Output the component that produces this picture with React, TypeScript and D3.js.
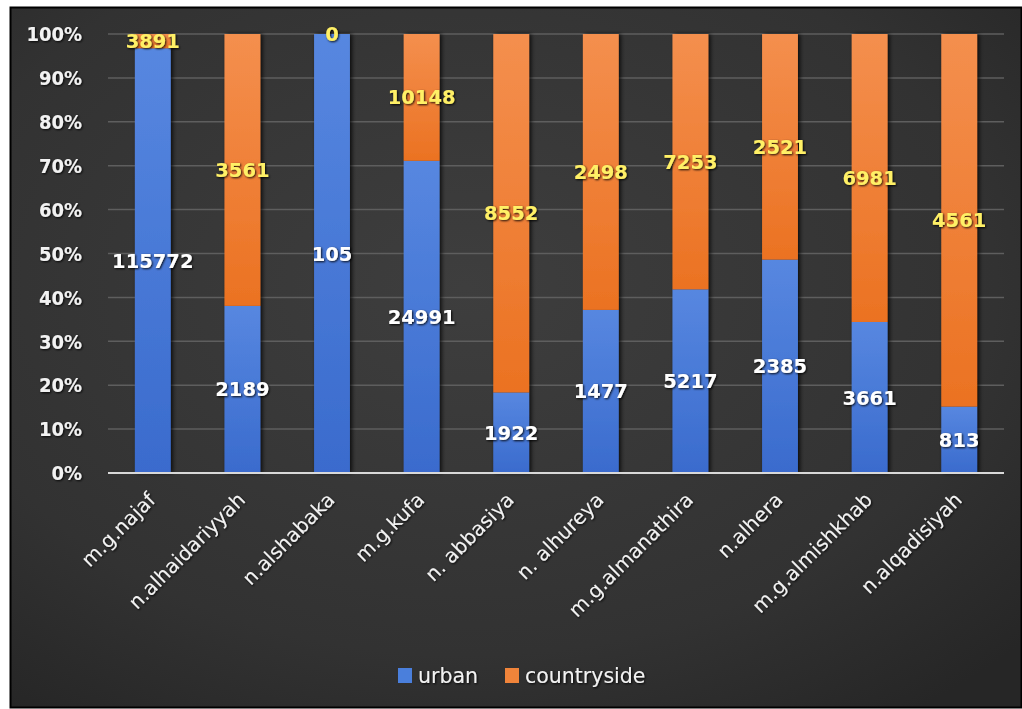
import React from "react";
import * as d3 from "d3";

// chart values
const categories = [
  "m.g.najaf",
  "n.alhaidariyyah",
  "n.alshabaka",
  "m.g.kufa",
  "n. abbasiya",
  "n. alhureya",
  "m.g.almanathira",
  "n.alhera",
  "m.g.almishkhab",
  "n.alqadisiyah",
];
const urban = [115772, 2189, 105, 24991, 1922, 1477, 5217, 2385, 3661, 813];
const countryside = [3891, 3561, 0, 10148, 8552, 2498, 7253, 2521, 6981, 4561];
const yTicks = [0, 0.1, 0.2, 0.3, 0.4, 0.5, 0.6, 0.7, 0.8, 0.9, 1];
const seriesNames = ["urban", "countryside"];

const W = 1022;
const H = 709;
const left = 108;
const right = 1004;
const top = 34;
const bottom = 473;
const font = "'DejaVu Sans', Verdana, sans-serif";
const condensed = "'DejaVu Sans Condensed', 'DejaVu Sans', sans-serif";

function App() {
  // share of each series in its column
  const rows = categories.map((c, i) => {
    const total = urban[i] + countryside[i];
    return { name: c, urban: urban[i] / total, countryside: countryside[i] / total };
  });
  const stack = d3.stack<any>().keys(seriesNames)(rows);

  const x = d3.scaleBand().domain(categories).range([left, right]).paddingInner(0.6).paddingOuter(0.3);
  const y = d3.scaleLinear().domain([0, 1]).range([bottom, top]);
  const fmt = d3.format(".0%");
  const raw = [urban, countryside];
  const gradIds = ["gBlue", "gOrange"];
  const labelColors = ["#ffffff", "#fff066"];
  const legendColors = ["#4a7fdc", "#f0843a"];

  return (
    <div style={{ position: "absolute", left: 0, top: 0 }}>
      <svg width={W} height={H} style={{ display: "block", background: "#fff" }}>
        <defs>
          <radialGradient id="bg" cx="45%" cy="40%" r="75%">
            <stop offset="0%" stopColor="#3e3e3e" />
            <stop offset="70%" stopColor="#323232" />
            <stop offset="100%" stopColor="#262626" />
          </radialGradient>
          <linearGradient id="gBlue" x1="0" y1="0" x2="0" y2="1">
            <stop offset="0%" stopColor="#5787e0" />
            <stop offset="100%" stopColor="#3a6bcd" />
          </linearGradient>
          <linearGradient id="gOrange" x1="0" y1="0" x2="0" y2="1">
            <stop offset="0%" stopColor="#f48f4e" />
            <stop offset="100%" stopColor="#eb7222" />
          </linearGradient>
          <filter id="barShadow" x="-30%" y="-5%" width="160%" height="110%">
            <feDropShadow dx="2" dy="0" stdDeviation="2" floodColor="#000" floodOpacity="0.8" />
          </filter>
          <filter id="txtShadow" x="-10%" y="-20%" width="120%" height="140%">
            <feDropShadow dx="1" dy="1" stdDeviation="1" floodColor="#000" floodOpacity="0.9" />
          </filter>
        </defs>

        <rect x={10.5} y={7.5} width={W - 11} height={H - 9} fill="url(#bg)" stroke="#000" strokeWidth={2} />

        {/* gridlines */}
        {yTicks.slice(1).map((t) => (
          <line key={t} x1={left} x2={right} y1={y(t)} y2={y(t)} stroke="#5e5e5e" strokeWidth={1.5} />
        ))}

        {/* bars */}
        <g filter="url(#barShadow)">
          {stack.map((s, si) =>
            s.map((d: any, i: number) => (
              <rect
                key={si + "-" + i}
                x={x(categories[i])}
                width={x.bandwidth()}
                y={y(d[1])}
                height={Math.max(0, y(d[0]) - y(d[1]))}
                fill={`url(#${gradIds[si]})`}
              />
            ))
          )}
        </g>

        {/* axis line */}
        <line x1={left} x2={right} y1={bottom} y2={bottom} stroke="#d9d9d9" strokeWidth={2} />

        {/* y tick labels */}
        <g filter="url(#txtShadow)" fontFamily={condensed} fontSize={20} fontWeight="bold" fill="#f2f2f2">
          {yTicks.map((t) => (
            <text key={t} x={82} y={y(t)} dy="0.36em" textAnchor="end">
              {fmt(t)}
            </text>
          ))}
        </g>

        {/* category labels */}
        <g filter="url(#txtShadow)" fontFamily={font} fontSize={20} fill="#f2f2f2">
          {categories.map((c) => (
            <text
              key={c}
              textAnchor="end"
              transform={`translate(${(x(c) as number) + x.bandwidth() / 2 + 4},${bottom + 28}) rotate(-45)`}
            >
              {c}
            </text>
          ))}
        </g>

        {/* value labels */}
        <g filter="url(#txtShadow)" fontFamily={font} fontSize={19.5} fontWeight="bold">
          {stack.map((s, si) =>
            s.map((d: any, i: number) => (
              <text
                key={si + "-" + i}
                x={(x(categories[i]) as number) + x.bandwidth() / 2}
                y={y((d[0] + d[1]) / 2)}
                dy="0.36em"
                textAnchor="middle"
                fill={labelColors[si]}
              >
                {raw[si][i]}
              </text>
            ))
          )}
        </g>

        {/* legend */}
        <g fontFamily={font} fontSize={20.5} fill="#f2f2f2">
          {seriesNames.map((n, i) => {
            const lx = i === 0 ? 398 : 505;
            return (
              <g key={n} transform={`translate(${lx},668)`}>
                <rect width={14} height={15} fill={legendColors[i]} />
                <text x={20} y={8} dy="0.36em" filter="url(#txtShadow)">
                  {n}
                </text>
              </g>
            );
          })}
        </g>
      </svg>
    </div>
  );
}

export default App;
